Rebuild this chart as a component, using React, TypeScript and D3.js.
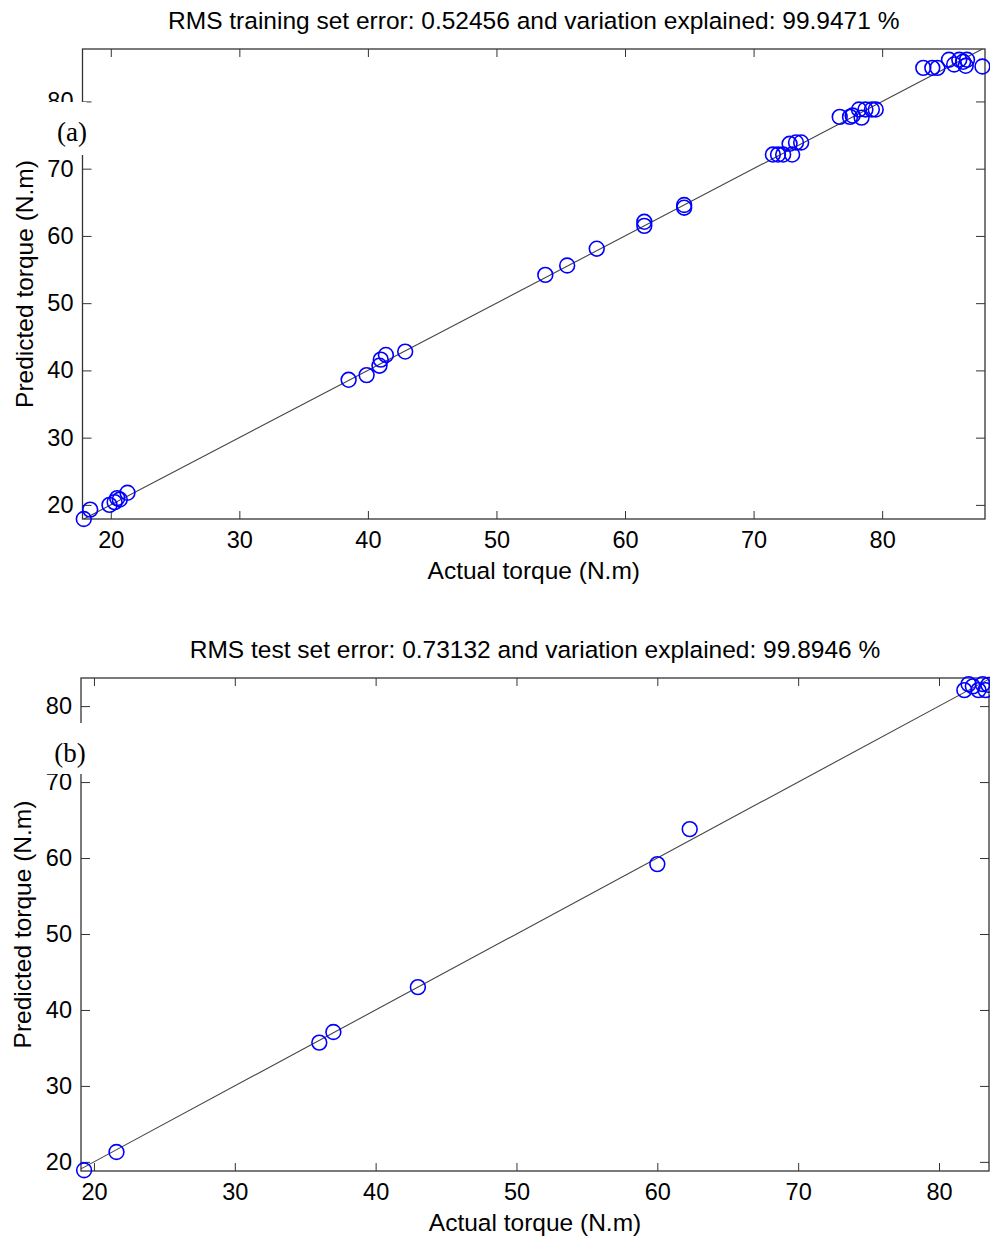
import React, { useEffect, useRef } from 'react';
import * as d3 from 'd3';

// training set (panel a)
const trainActual = [17.9, 18.4, 19.9, 20.3, 20.5, 20.7, 21.3, 38.5, 39.9, 40.9, 41.0, 41.4, 42.9, 53.8, 55.5, 57.8, 61.5, 61.5, 64.6, 64.6,
  71.5, 71.9, 72.3, 73.0, 72.8, 73.3, 73.7, 76.7, 77.5, 77.7, 78.4, 78.2, 78.7, 79.2, 79.5,
  83.2, 83.9, 84.3, 85.2, 85.6, 86.0, 86.3, 86.5, 86.6, 87.8];
const trainPredicted = [17.9, 19.3, 20.0, 20.4, 21.0, 20.8, 21.8, 38.6, 39.3, 40.7, 41.6, 42.3, 42.8, 54.2, 55.6, 58.1, 62.1, 61.5, 64.6, 64.2,
  72.1, 72.1, 72.1, 72.1, 73.7, 73.9, 73.9, 77.7, 77.7, 77.9, 77.6, 78.8, 78.8, 78.8, 78.8,
  85.0, 85.0, 85.0, 86.2, 85.5, 86.2, 85.9, 85.3, 86.2, 85.2];

// test set (panel b)
const testActual = [19.3, 21.6, 36.0, 37.0, 43.0, 60.0, 62.3, 81.8, 82.1, 82.4, 82.8, 83.1, 83.3, 83.5];
const testPredicted = [18.9, 21.3, 35.7, 37.1, 43.0, 59.2, 63.8, 82.1, 82.9, 82.6, 82.1, 82.9, 82.1, 82.8];

const tickValues = [20, 30, 40, 50, 60, 70, 80];

const panels = [
  {
    key: 'a', label: '(a)',
    title: 'RMS training set error: 0.52456 and variation explained: 99.9471 %',
    actual: trainActual, predicted: trainPredicted,
    xDomain: [17.8, 88.0], yDomain: [17.9, 87.8],
    left: 82.5, right: 985, top: 49, bottom: 519,
    maskTop: 102, maskH: 53, labelX: 72, labelY: 141,
  },
  {
    key: 'b', label: '(b)',
    title: 'RMS test set error: 0.73132 and variation explained: 99.8946 %',
    actual: testActual, predicted: testPredicted,
    xDomain: [19.08, 83.55], yDomain: [18.8, 83.7],
    left: 81, right: 989, top: 678, bottom: 1171,
    maskTop: 723, maskH: 51, labelX: 70, labelY: 762,
  },
];

const FONT = 'Liberation Sans, Arial, sans-serif';

const Panel = ({ p }) => {
  const gRef = useRef(null);

  useEffect(() => {
    const g = d3.select(gRef.current);
    g.selectAll('*').remove();
    const w = p.right - p.left;
    const h = p.bottom - p.top;
    const x = d3.scaleLinear().domain(p.xDomain).range([0, w]);
    const y = d3.scaleLinear().domain(p.yDomain).range([h, 0]);

    const styleAxis = (sel) => {
      sel.select('.domain').remove();
      sel.selectAll('line').attr('stroke', '#333');
      sel.selectAll('text').attr('font-family', FONT).attr('font-size', 23.5).attr('fill', '#000');
    };

    g.append('g').attr('transform', `translate(0,${h})`)
      .call(d3.axisBottom(x).tickValues(tickValues).tickSize(-8).tickPadding(12)).call(styleAxis);
    g.append('g')
      .call(d3.axisTop(x).tickValues(tickValues).tickSize(-8).tickFormat(() => '')).call(styleAxis);
    g.append('g')
      .call(d3.axisLeft(y).tickValues(tickValues).tickSize(-9).tickPadding(9)).call(styleAxis);
    g.append('g').attr('transform', `translate(${w},0)`)
      .call(d3.axisRight(y).tickValues(tickValues).tickSize(-9).tickFormat(() => '')).call(styleAxis);

    g.append('rect').attr('width', w).attr('height', h)
      .attr('fill', 'none').attr('stroke', '#333').attr('stroke-width', 1.3);

    // fit line y = x
    const d0 = Math.max(p.xDomain[0], p.yDomain[0]);
    const d1 = Math.min(p.xDomain[1], p.yDomain[1]);
    g.append('line')
      .attr('x1', x(d0)).attr('y1', y(d0)).attr('x2', x(d1)).attr('y2', y(d1))
      .attr('stroke', '#444').attr('stroke-width', 1.1);

    g.append('g').selectAll('circle')
      .data(p.actual.map((a, i) => [a, p.predicted[i]]))
      .join('circle')
      .attr('cx', (d) => x(d[0]))
      .attr('cy', (d) => y(d[1]))
      .attr('r', 7.4)
      .attr('fill', 'none')
      .attr('stroke', '#0000ff')
      .attr('stroke-width', 1.6);

    g.append('text')
      .attr('x', w / 2).attr('y', -20)
      .attr('text-anchor', 'middle')
      .attr('font-family', FONT).attr('font-size', 24.5)
      .text(p.title);

    g.append('text')
      .attr('x', w / 2).attr('y', h + 60)
      .attr('text-anchor', 'middle')
      .attr('font-family', FONT).attr('font-size', 24.5)
      .text('Actual torque (N.m)');

    g.append('text')
      .attr('transform', `translate(${-50},${h / 2}) rotate(-90)`)
      .attr('text-anchor', 'middle')
      .attr('font-family', FONT).attr('font-size', 24.5)
      .text('Predicted torque (N.m)');

    // pasted label box over the left axis
    g.append('rect')
      .attr('x', 40 - p.left).attr('y', p.maskTop - p.top)
      .attr('width', p.left - 40 + 4).attr('height', p.maskH)
      .attr('fill', '#fff');
    g.append('text')
      .attr('x', p.labelX - p.left).attr('y', p.labelY - p.top)
      .attr('text-anchor', 'middle')
      .attr('font-family', 'Liberation Serif, Times New Roman, serif').attr('font-size', 27)
      .text(p.label);
  }, [p]);

  return <g ref={gRef} transform={`translate(${p.left},${p.top})`} />;
};

export default function App() {
  return (
    <svg width={990} height={1236} style={{ position: 'absolute', left: 0, top: 0, background: '#fff' }}>
      <rect width={990} height={1236} fill="#fff" />
      {panels.map((p) => <Panel key={p.key} p={p} />)}
    </svg>
  );
}
